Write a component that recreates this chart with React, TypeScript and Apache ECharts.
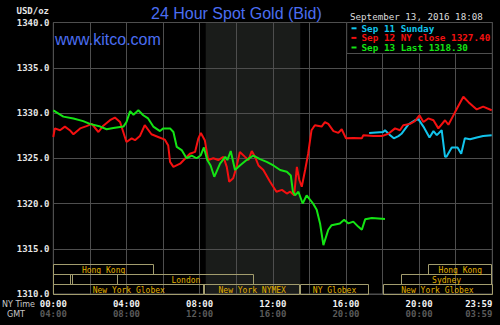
import React, { useEffect, useRef } from "react";
import * as echarts from "echarts";

// ---- Data (minutes after NY midnight, price in USD/oz) ----
const sep11Times = [1036, 1082, 1088, 1105, 1117, 1132, 1142, 1165, 1186, 1198, 1214, 1234, 1247, 1258, 1274, 1285, 1290, 1307, 1326, 1338, 1350, 1367, 1389, 1410, 1438];
const sep11Prices = [1327.8, 1327.9, 1328.1, 1327.55, 1327.2, 1327.45, 1327.7, 1328.75, 1329.2, 1329.3, 1328.5, 1327.3, 1328.0, 1327.55, 1328.1, 1325.15, 1325.2, 1326.2, 1326.2, 1325.5, 1327.2, 1327.1, 1327.3, 1327.45, 1327.55];

const sep12Times = [0, 5, 22, 38, 54, 66, 88, 109, 126, 148, 164, 186, 202, 219, 240, 257, 268, 284, 300, 322, 344, 366, 377, 383, 394, 416, 448, 465, 476, 484, 497, 508, 525, 541, 558, 569, 577, 590, 601, 612, 629, 640, 651, 662, 673, 689, 711, 732, 750, 766, 777, 790, 799, 807, 815, 826, 836, 847, 858, 880, 891, 902, 919, 935, 946, 960, 984, 1012, 1017, 1050, 1078, 1099, 1121, 1137, 1148, 1170, 1186, 1201, 1214, 1230, 1247, 1263, 1285, 1296, 1318, 1345, 1362, 1389, 1410, 1438];
const sep12Prices = [1327.35, 1328.3, 1328.1, 1328.5, 1328.1, 1327.65, 1328.3, 1328.55, 1328.8, 1327.9, 1328.6, 1329.2, 1329.5, 1329.0, 1326.8, 1327.2, 1327.0, 1327.45, 1328.65, 1327.65, 1327.35, 1327.05, 1326.4, 1324.6, 1324.05, 1324.4, 1325.5, 1325.7, 1327.2, 1327.8, 1327.0, 1324.8, 1325.0, 1324.8, 1325.15, 1324.05, 1322.4, 1322.8, 1324.05, 1325.7, 1325.15, 1324.8, 1325.8, 1325.15, 1324.2, 1323.7, 1322.4, 1321.3, 1321.5, 1321.1, 1321.3, 1320.9, 1324.05, 1322.6, 1321.85, 1323.7, 1325.5, 1328.1, 1328.65, 1328.5, 1329.0, 1328.8, 1328.0, 1327.8, 1328.2, 1327.2, 1327.25, 1327.2, 1327.55, 1327.45, 1327.45, 1327.7, 1328.3, 1328.1, 1328.65, 1328.8, 1329.1, 1329.75, 1329.0, 1329.4, 1329.2, 1328.3, 1329.2, 1328.7, 1330.1, 1331.8, 1331.2, 1330.4, 1330.7, 1330.3];

const sep13Times = [0, 33, 66, 98, 120, 154, 175, 197, 230, 240, 252, 263, 279, 295, 311, 328, 350, 360, 383, 394, 405, 421, 437, 454, 470, 483, 494, 505, 516, 528, 547, 564, 571, 582, 596, 612, 634, 656, 678, 700, 722, 744, 766, 779, 786, 793, 804, 818, 831, 852, 864, 875, 886, 902, 913, 940, 954, 968, 984, 1000, 1012, 1023, 1045, 1088];
const sep13Prices = [1330.3, 1329.6, 1329.4, 1329.1, 1328.8, 1328.5, 1328.2, 1328.35, 1328.5, 1329.0, 1330.2, 1329.8, 1330.3, 1329.75, 1329.4, 1328.5, 1328.0, 1328.3, 1328.3, 1327.9, 1326.25, 1325.9, 1325.0, 1325.3, 1325.0, 1325.3, 1326.2, 1324.8, 1324.2, 1322.95, 1324.4, 1325.15, 1324.8, 1325.8, 1323.7, 1324.2, 1324.8, 1325.3, 1324.9, 1324.6, 1324.2, 1323.7, 1323.5, 1323.1, 1321.3, 1320.9, 1321.3, 1320.0, 1320.9, 1320.0, 1319.3, 1317.8, 1315.4, 1317.1, 1317.6, 1317.8, 1318.2, 1317.8, 1318.0, 1317.45, 1317.1, 1318.25, 1318.4, 1318.3];

const seriesNames = ["Sep 11 Sunday", "Sep 12 NY close 1327.40", "Sep 13 Last 1318.30"];
const seriesColors = ["#12c4ec", "#f41010", "#14e414"];

const sessionNames = ["Hong Kong", "", "", "London", "New York Globex", "New York NYMEX", "NY Globex", "New York Globex", "Sydney", "Hong Kong"];
const sessionStarts = [0, 0, 60, 210, 0, 495, 810, 1080, 1140, 1230];
const sessionEnds = [330, 60, 210, 660, 495, 810, 1035, 1440, 1440, 1440];
const sessionRows = [0, 1, 1, 1, 2, 2, 2, 2, 1, 0];

const nymexShade = [500, 810];

const xLabelsNY = ["00:00", "04:00", "08:00", "12:00", "16:00", "20:00", "23:59"];
const xLabelsGMT = ["04:00", "08:00", "12:00", "16:00", "20:00", "00:00", "03:59"];

const Y_MIN = 1310;
const Y_MAX = 1340;
const MONO = "DejaVu Sans Mono";
const GRID_COLOR = "#4e4e4e";

export default function App() {
  const ref = useRef<HTMLDivElement>(null);

  useEffect(() => {
    if (!ref.current) return;
    const chart = echarts.init(ref.current, undefined, { renderer: "svg" });

    const lineSeries = [sep11Times, sep12Times, sep13Times].map((times, k) => {
      const prices = [sep11Prices, sep12Prices, sep13Prices][k];
      return {
        name: seriesNames[k],
        type: "line",
        showSymbol: false,
        symbol: "none",
        color: seriesColors[k],
        lineStyle: { width: 2, color: seriesColors[k] },
        data: times.map((t, i) => [t, prices[i]]),
        z: 2 + k,
      };
    });

    const option: any = {
      animation: false,
      backgroundColor: "#000",
      grid: {
        left: 53.3,
        right: 7.7,
        top: 22.5,
        bottom: 31,
        show: true,
        borderColor: GRID_COLOR,
        borderWidth: 1,
        backgroundColor: "transparent",
      },
      xAxis: {
        type: "value",
        min: 0,
        max: 1440,
        interval: 120,
        axisLine: { show: false },
        axisTick: { show: false },
        splitLine: { show: true, lineStyle: { color: GRID_COLOR, width: 1 } },
        axisLabel: {
          margin: 5,
          showMaxLabel: true,
          alignMaxLabel: "right",
          formatter: (v: number) => {
            if (v % 240 !== 0) return "";
            const i = v / 240;
            return `{a|${xLabelsNY[i]}}\n{b|${xLabelsGMT[i]}}`;
          },
          rich: {
            a: { color: "#f2f2f2", fontFamily: MONO, fontSize: 9, fontWeight: "bold", lineHeight: 10 },
            b: { color: "#5a5a5a", fontFamily: MONO, fontSize: 9, fontWeight: "bold", lineHeight: 10 },
          },
        },
      },
      yAxis: {
        type: "value",
        min: Y_MIN,
        max: Y_MAX,
        interval: 5,
        axisLine: { show: false },
        axisTick: { show: false },
        splitLine: { show: true, lineStyle: { color: GRID_COLOR, width: 1 } },
        axisLabel: {
          margin: 4,
          color: "#e6e6e6",
          fontFamily: MONO,
          fontSize: 9,
          fontWeight: "bold",
          formatter: (v: number) => v.toFixed(1),
        },
      },
      legend: {
        orient: "vertical",
        left: 347.5,
        top: 23.5,
        itemWidth: 5,
        itemHeight: 2,
        itemGap: 0,
        icon: "rect",
        padding: [0, 4, 1, 4],
        selectedMode: false,
        z: 6,
        textStyle: { fontFamily: MONO, fontSize: 9.3, fontWeight: "bold", lineHeight: 9.6 },
        data: seriesNames.map((n, k) => ({ name: n, textStyle: { color: seriesColors[k] } })),
      },
      graphic: [
        {
          type: "rect",
          z: 5,
          shape: { x: 346.7, y: 22.5, width: 145.6, height: 31 },
          style: { fill: "#000", stroke: GRID_COLOR, lineWidth: 1 },
        },
        {
          type: "text",
          z: 6,
          x: 151,
          y: 13,
          style: { text: "24 Hour Spot Gold (Bid)", fill: "#4b6ef2", fontFamily: "Liberation Sans", fontSize: 16, align: "left", verticalAlign: "middle" },
        },
        {
          type: "text",
          z: 6,
          x: 55,
          y: 39,
          style: { text: "www.kitco.com", fill: "#4b6ef2", fontFamily: "Liberation Sans", fontSize: 16, align: "left", verticalAlign: "middle" },
        },
        {
          type: "text",
          z: 6,
          x: 49,
          y: 10.5,
          style: { text: "USD/oz", fill: "#e6e6e6", fontFamily: MONO, fontSize: 9, fontWeight: "bold", align: "right", verticalAlign: "middle" },
        },
        {
          type: "text",
          z: 6,
          x: 350,
          y: 16.7,
          style: { text: "September 13, 2016 18:08", fill: "#dcdcdc", fontFamily: MONO, fontSize: 9.2, align: "left", verticalAlign: "middle" },
        },
        {
          type: "text",
          z: 6,
          x: 18.5,
          y: 304,
          style: { text: "NY Time", fill: "#c8c8c8", fontFamily: "DejaVu Sans", fontSize: 8, align: "center", verticalAlign: "middle" },
        },
        {
          type: "text",
          z: 6,
          x: 16,
          y: 314,
          style: { text: "GMT", fill: "#c8c8c8", fontFamily: "DejaVu Sans", fontSize: 8, align: "center", verticalAlign: "middle" },
        },
      ],
      series: [
        {
          name: "NYMEX",
          type: "custom",
          z: -5,
          silent: true,
          data: [[nymexShade[0], nymexShade[1], Y_MIN]],
          encode: { x: [0, 1], y: 2 },
          renderItem: (params: any, api: any) => {
            const a = api.coord([api.value(0), Y_MAX]);
            const b = api.coord([api.value(1), Y_MIN]);
            return {
              type: "rect",
              shape: { x: a[0], y: a[1], width: b[0] - a[0], height: b[1] - a[1] },
              style: { fill: "#1a1c1a" },
            };
          },
        },
        ...lineSeries,
        {
          name: "Sessions",
          type: "custom",
          z: 4,
          silent: true,
          data: sessionStarts.map((s, i) => [s, sessionEnds[i], Y_MIN, sessionRows[i]]),
          encode: { x: [0, 1], y: 2 },
          renderItem: (params: any, api: any) => {
            const p1 = api.coord([api.value(0), Y_MIN]);
            const p2 = api.coord([api.value(1), Y_MIN]);
            const row = api.value(3);
            const rowH = 10;
            const top = p1[1] - (3 - row) * rowH;
            const name = sessionNames[params.dataIndex];
            return {
              type: "group",
              children: [
                {
                  type: "rect",
                  shape: { x: Math.round(p1[0]) + 0.5, y: Math.round(top) + 0.5, width: Math.round(p2[0] - p1[0]) - 1, height: rowH },
                  style: { fill: "none", stroke: "#a39d6e", lineWidth: 1 },
                },
                {
                  type: "text",
                  style: {
                    text: name,
                    x: (p1[0] + p2[0]) / 2,
                    y: top + rowH / 2 + 1,
                    fill: "#e2b000",
                    fontFamily: MONO,
                    fontSize: 8,
                    align: "center",
                    verticalAlign: "middle",
                  },
                },
              ],
            };
          },
        },
      ],
    };

    chart.setOption(option);
    return () => chart.dispose();
  }, []);

  return <div ref={ref} style={{ position: "fixed", left: 0, top: 0, width: 500, height: 325 }} />;
}
